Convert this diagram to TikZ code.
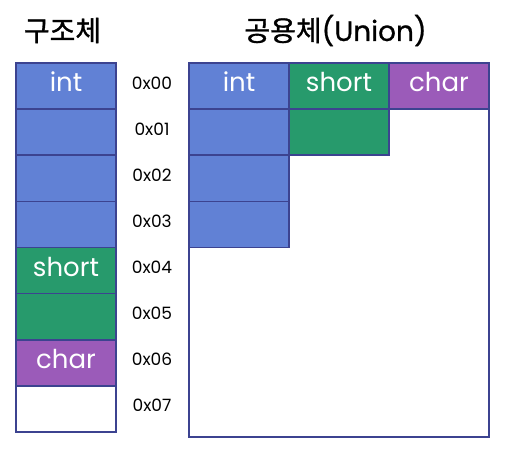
\documentclass[tikz,border=0pt]{standalone}
\usepackage{fontspec}
\setmainfont{Poppins}
\newfontfamily\krfont[FakeBold=1.2]{Noto Sans CJK KR}
\newfontfamily\headfont[FakeBold=0.8]{Poppins}
\definecolor{intBlue}{HTML}{6181D5}
\definecolor{shortGreen}{HTML}{279A6C}
\definecolor{charPurple}{HTML}{9B5BB9}
\definecolor{cellBorder}{HTML}{3C4390}
\tikzset{
  cell/.style={draw=cellBorder,line width=1.5pt,minimum width=100pt,minimum height=46.1pt,
    inner sep=0pt,text=white,font=\fontsize{26}{26}\selectfont,text height=20pt,text depth=9pt},
  addr/.style={font=\fontsize{17}{17}\selectfont},
  heading/.style={font=\fontsize{28}{28}\selectfont\headfont}
}

\begin{document}
\begin{tikzpicture}[x=1pt,y=-1pt]
\useasboundingbox (0,0) rectangle (507,454);
% titles
\node[heading] (st) at (62.5,30.5) {\krfont 구조체};
\node[heading] (ut) at (335.5,30.5) {{\krfont 공용체}(Union)};
% struct
\foreach \i/\c/\t in {0/intBlue/int,1/intBlue/,2/intBlue/,3/intBlue/,4/shortGreen/short,5/shortGreen/,6/charPurple/char,7/white/}
  \node[cell,fill=\c] (s\i) at (66,{86.06+46.125*\i}) {\t};
% addresses
\foreach \i in {0,...,7}
  \node[addr] (a\i) at (152,{83+46.1*\i}) {0x0\i};
% union
\node[draw=cellBorder,line width=1.5pt,fill=white,minimum width=300pt,minimum height=374pt,inner sep=0pt] (u) at (339,250) {};
\foreach \i/\t in {0/int,1/,2/,3/}
  \node[cell,fill=intBlue] (ui\i) at (239,{86.06+46.125*\i}) {\t};
\foreach \i/\t in {0/short,1/}
  \node[cell,fill=shortGreen] (us\i) at (339,{86.06+46.125*\i}) {\t};
\node[cell,fill=charPurple] (uc0) at (439,86.06) {char};
\end{tikzpicture}
\end{document}
